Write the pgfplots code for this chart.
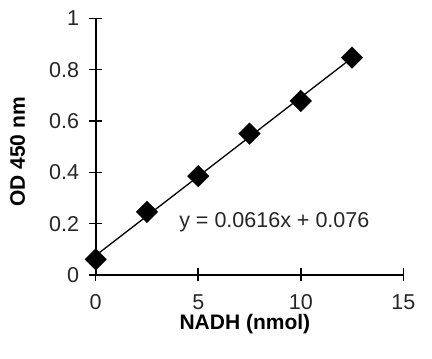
\documentclass[border=0pt]{standalone}
\usepackage{pgfplots}
\pgfplotsset{compat=1.18}
\usepackage{fontspec}
\setmainfont{Liberation Sans}
\begin{document}
\begin{tikzpicture}
\path[use as bounding box] (-95.7pt,-84pt) rectangle (336.3pt,275pt);
\begin{axis}[
  at={(0,0)}, anchor=south west,
  scale only axis, width=307.6pt, height=256.7pt,
  xmin=0, xmax=15, ymin=0, ymax=1,
  axis lines*=left,
  axis line style={line width=1.8pt, black},
  xtick={0,5,10,15}, ytick={0,0.2,0.4,0.6,0.8,1},
  tick align=center, major tick length=13pt,
  tick style={line width=1.5pt, black},
  /pgf/number format/assume math mode=true,
  ticklabel style={font=\fontsize{21.5}{24}\selectfont, text=black!85},
  yticklabel style={anchor=east, inner sep=0pt, xshift=-10pt},
  xticklabel style={anchor=north, inner sep=0pt, yshift=-13pt},
  xlabel={\textbf{NADH (nmol)}},
  ylabel={\textbf{OD 450 nm}},
  label style={font=\fontsize{21}{24}\selectfont},
  xlabel style={at={(axis description cs:0.485,-0.192)}, anchor=center},
  ylabel style={at={(axis description cs:-0.2536,0.479)}, anchor=center, rotate=0},
  clip=false,
]
\addplot[black, line width=1.3pt] coordinates {(0,0.076) (12.5,0.846)};
\addplot[only marks, mark=square*, mark size=7.6pt, mark options={rotate=45, fill=black}]
  coordinates {(0,0.061) (2.5,0.246) (5,0.385) (7.5,0.551) (10,0.678) (12.5,0.847)};
\node[font=\fontsize{21.5}{24}\selectfont, text=black!85] at (axis cs:8.71,0.206) {y = 0.0616x + 0.076};
\end{axis}
\end{tikzpicture}
\end{document}
